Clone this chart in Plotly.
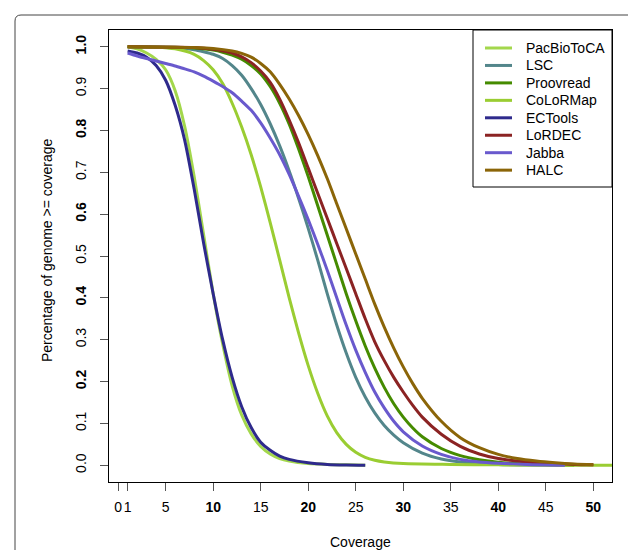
import plotly.graph_objects as go

# ---------------- data ----------------
series_names = ["PacBioToCA", "LSC", "Proovread", "CoLoRMap", "ECTools", "LoRDEC", "Jabba", "HALC"]
series_colors = ["#A3D74C", "#53868B", "#458B00", "#9ACD32", "#2E2A8C", "#8B2323", "#6959CD", "#8B6508"]

pacbiotoca_x = [1, 2, 3, 4, 5, 6, 7, 8, 9, 10, 11, 12, 13, 14, 15, 16, 17, 18, 20, 22, 24, 26]
pacbiotoca_y = [1.0, 0.995, 0.985, 0.97, 0.945, 0.895, 0.81, 0.69, 0.55, 0.41, 0.29, 0.19, 0.12, 0.075,
                0.045, 0.027, 0.016, 0.01, 0.004, 0.002, 0.001, 0.0]

lsc_x = [1, 4, 6, 8, 9, 10, 11, 12, 13, 14, 15, 16, 17, 18, 19, 20, 21, 22, 23, 24, 25, 26, 27, 28, 29,
         30, 32, 34, 36, 40, 45, 47]
lsc_y = [1.0, 0.999, 0.997, 0.993, 0.988, 0.982, 0.972, 0.955, 0.932, 0.9, 0.862, 0.816, 0.763, 0.703,
         0.637, 0.566, 0.49, 0.41, 0.335, 0.268, 0.21, 0.163, 0.125, 0.095, 0.072, 0.054, 0.029, 0.015,
         0.008, 0.002, 0.0005, 0.0]

proovread_x = [1, 6, 8, 10, 11, 12, 13, 14, 15, 16, 17, 18, 19, 20, 21, 22, 23, 24, 25, 26, 27, 28, 29,
               30, 31, 32, 34, 36, 38, 40, 43, 46, 48]
proovread_y = [1.0, 0.999, 0.997, 0.992, 0.987, 0.98, 0.97, 0.955, 0.935, 0.905, 0.865, 0.815, 0.755,
               0.69, 0.62, 0.55, 0.48, 0.41, 0.345, 0.285, 0.232, 0.186, 0.147, 0.115, 0.089, 0.068,
               0.04, 0.023, 0.013, 0.007, 0.003, 0.001, 0.0]

colormap_x = [1, 4, 6, 8, 9, 10, 11, 12, 13, 14, 15, 16, 17, 18, 19, 20, 21, 22, 23, 24, 25, 26, 27,
              28, 30, 35, 40, 45, 55]
colormap_y = [1.0, 0.999, 0.995, 0.982, 0.967, 0.945, 0.912, 0.865, 0.808, 0.742, 0.665, 0.58, 0.49,
              0.40, 0.315, 0.238, 0.172, 0.118, 0.078, 0.05, 0.031, 0.019, 0.012, 0.008, 0.004, 0.002,
              0.001, 0.0, 0.0]

ectools_x = [1, 2, 3, 4, 5, 6, 7, 8, 9, 10, 11, 12, 13, 14, 15, 16, 17, 18, 20, 22, 24, 26]
ectools_y = [0.99, 0.985, 0.975, 0.955, 0.92, 0.86, 0.777, 0.66, 0.53, 0.41, 0.30, 0.21, 0.14, 0.09,
             0.055, 0.036, 0.022, 0.014, 0.006, 0.002, 0.0005, 0.0]

lordec_x = [1, 8, 10, 11, 12, 13, 14, 15, 16, 17, 18, 19, 20, 21, 22, 23, 24, 25, 26, 27, 28, 29, 30,
            31, 32, 34, 36, 38, 40, 42, 44, 46, 48, 50]
lordec_y = [1.0, 0.998, 0.994, 0.99, 0.985, 0.976, 0.962, 0.942, 0.915, 0.875, 0.825, 0.77, 0.71, 0.65,
            0.59, 0.53, 0.47, 0.41, 0.35, 0.295, 0.25, 0.21, 0.175, 0.143, 0.115, 0.074, 0.045, 0.027,
            0.016, 0.01, 0.006, 0.004, 0.002, 0.001]

jabba_x = [1, 2, 3, 4, 5, 6, 7, 8, 9, 10, 11, 12, 13, 14, 15, 16, 17, 18, 19, 20, 21, 22, 23, 24, 25,
           26, 27, 28, 29, 30, 32, 34, 36, 38, 40, 43, 47]
jabba_y = [0.985, 0.978, 0.972, 0.966, 0.96, 0.954, 0.947, 0.94, 0.93, 0.918, 0.905, 0.89, 0.87, 0.848,
           0.818, 0.782, 0.742, 0.695, 0.642, 0.587, 0.528, 0.466, 0.40, 0.335, 0.275, 0.222, 0.175,
           0.137, 0.105, 0.08, 0.046, 0.026, 0.014, 0.008, 0.005, 0.002, 0.0]

halc_x = [1, 8, 10, 12, 13, 14, 15, 16, 17, 18, 19, 20, 21, 22, 23, 24, 25, 26, 27, 28, 29, 30, 31,
          32, 34, 36, 38, 40, 42, 44, 46, 48, 50]
halc_y = [1.0, 0.998, 0.996, 0.99, 0.984, 0.975, 0.96, 0.94, 0.91, 0.875, 0.835, 0.79, 0.74, 0.685,
          0.625, 0.565, 0.505, 0.445, 0.385, 0.33, 0.28, 0.235, 0.195, 0.16, 0.105, 0.066, 0.042,
          0.026, 0.016, 0.01, 0.006, 0.003, 0.001]

x_tick_vals = [0, 1, 5, 10, 15, 20, 25, 30, 35, 40, 45, 50]
x_tick_bold = [10, 20, 30, 40, 50]
y_tick_vals = [0.0, 0.1, 0.2, 0.3, 0.4, 0.5, 0.6, 0.7, 0.8, 0.9, 1.0]
y_tick_bold = [0.2, 0.4, 0.6, 0.8, 1.0]

x_title = "Coverage"
y_title = "Percentage of genome >= coverage"

all_x = [pacbiotoca_x, lsc_x, proovread_x, colormap_x, ectools_x, lordec_x, jabba_x, halc_x]
all_y = [pacbiotoca_y, lsc_y, proovread_y, colormap_y, ectools_y, lordec_y, jabba_y, halc_y]

# ---------------- layout geometry (pixels, in the 636x550 window) ----------------
WIN_W, WIN_H = 636, 550
PAGE_OFF = 8                      # default body margin of the html page
W_PX, H_PX = WIN_W - PAGE_OFF, WIN_H - PAGE_OFF
L, R, T, B = 109, 612, 30, 482    # plot box in window pixels
PW, PH = R - L, B - T
FONT = "Liberation Sans, Arial, Helvetica, sans-serif"


def px(xp):
    return (xp - L) / PW


def py(yp):
    return (B - yp) / PH


fig = go.Figure()
for name, col, xs, ys in zip(series_names, series_colors, all_x, all_y):
    fig.add_trace(go.Scatter(x=xs, y=ys, mode="lines", name=name, showlegend=False,
                             line=dict(color=col, width=3, shape="spline", smoothing=0.7)))

x_text = [f"<b>{v}</b>" if v in x_tick_bold else str(v) for v in x_tick_vals]
y_text = [f"<b>{v:.1f}</b>" if v in y_tick_bold else f"{v:.1f}" for v in y_tick_vals]

fig.update_xaxes(range=[-0.96, 51.96], tickmode="array", tickvals=x_tick_vals, ticktext=x_text,
                 ticks="outside", ticklen=8, tickwidth=1, tickcolor="#555555", tickangle=0,
                 showline=True, linecolor="black", linewidth=1, mirror=True, automargin=False,
                 showgrid=False, zeroline=False, ticklabelstandoff=4,
                 tickfont=dict(family=FONT, size=14, color="black"))
fig.update_yaxes(range=[-0.04, 1.04], tickmode="array", tickvals=y_tick_vals, ticktext=y_text,
                 ticks="outside", ticklen=8, tickwidth=1, tickcolor="#555555", tickangle=-90,
                 showline=True, linecolor="black", linewidth=1, mirror=True, automargin=False,
                 showgrid=False, zeroline=False, ticklabelstandoff=8,
                 tickfont=dict(family=FONT, size=14, color="black"))

shapes = []
annotations = []
# outer rounded frame
r = 6
path = (f"M {px(15)},{py(600)} L {px(15)},{py(15 + r)} Q {px(15)},{py(15)} {px(15 + r)},{py(15)} "
        f"L {px(634 - r)},{py(15)} Q {px(634)},{py(15)} {px(640)},{py(15 + r)} L {px(640)},{py(600)}")
shapes.append(dict(type="path", xref="paper", yref="paper", path=path,
                   line=dict(color="#444444", width=1)))

# legend box
shapes.append(dict(type="rect", xref="paper", yref="paper", x0=px(473), x1=px(612), y0=py(187), y1=py(30),
                   line=dict(color="black", width=1), fillcolor="white", layer="above"))
for i, (name, col) in enumerate(zip(series_names, series_colors)):
    yc = 48 + 17.45 * i
    shapes.append(dict(type="line", xref="paper", yref="paper", x0=px(485), x1=px(512), y0=py(yc), y1=py(yc),
                       line=dict(color=col, width=3), layer="above"))
    annotations.append(dict(text=name, xref="paper", yref="paper", x=px(524), y=py(yc),
                            xanchor="left", yanchor="middle", showarrow=False,
                            font=dict(family=FONT, size=14, color="black")))

annotations.append(dict(text=x_title, xref="paper", yref="paper", x=0.5, y=py(542),
                        xanchor="center", yanchor="middle", showarrow=False,
                        font=dict(family=FONT, size=14, color="black")))
annotations.append(dict(text=y_title, xref="paper", yref="paper", x=px(47), y=py(250), textangle=-90,
                        xanchor="center", yanchor="middle", showarrow=False,
                        font=dict(family=FONT, size=14, color="black")))

fig.update_layout(width=W_PX, height=H_PX, autosize=False,
                  margin=dict(l=L - PAGE_OFF, r=WIN_W - R, t=T - PAGE_OFF, b=WIN_H - B,
                              pad=0, autoexpand=False),
                  paper_bgcolor="white", plot_bgcolor="white", showlegend=False,
                  shapes=shapes, annotations=annotations,
                  font=dict(family=FONT, size=14, color="black"))

fig.write_html("out.html")
